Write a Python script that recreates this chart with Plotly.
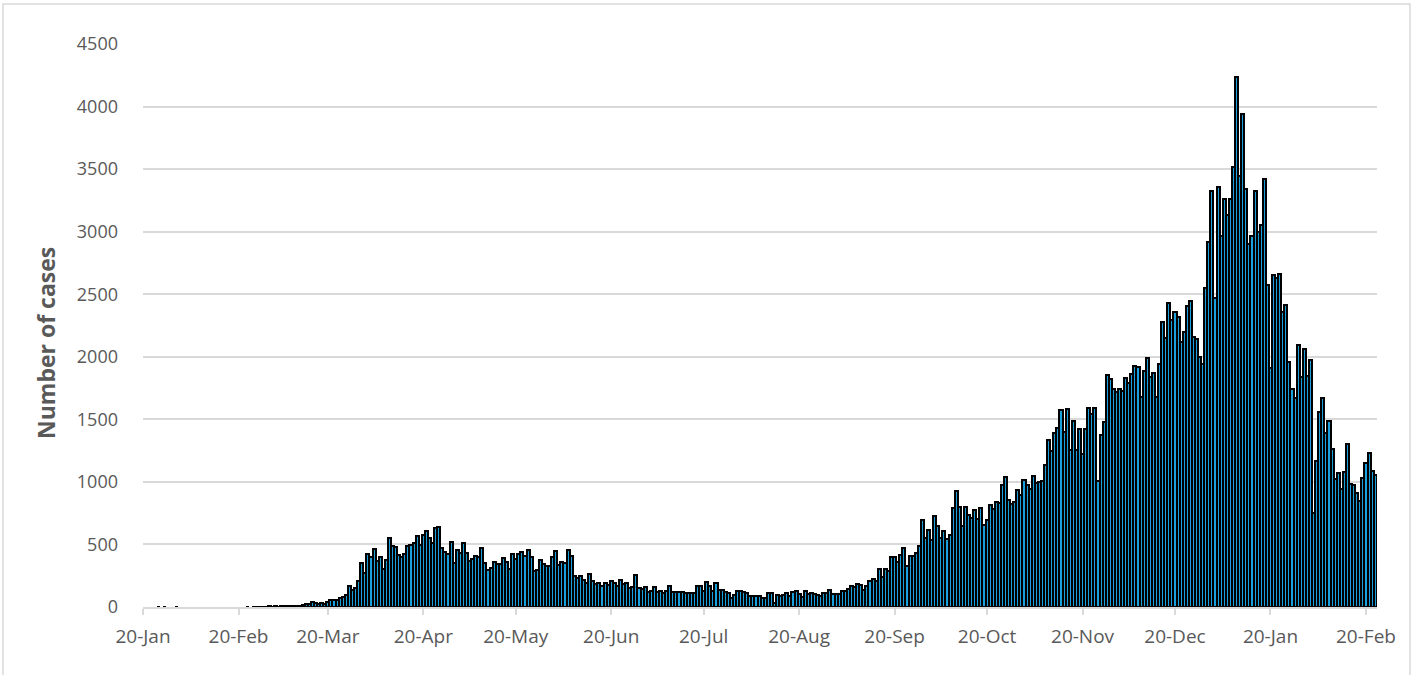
import pandas as pd
import plotly.graph_objects as go

START_DATE = "2020-01-20"

# Daily case counts, in consecutive day order
cases_jan_mar = [0, 0, 0, 0, 0, 2, 0, 2, 0, 0, 0, 2, 0, 0, 0, 0, 0, 0, 0, 0,
                 0, 0, 0, 0, 0, 0, 0, 0, 0, 0, 0, 0, 0, 0, 2, 0, 3, 2, 4, 3,
                 3, 5, 4, 6, 4, 8, 5, 7, 6, 10, 8, 12, 15, 22, 28, 42, 35, 22, 30]
cases_mar_jun = [22, 43, 56, 59, 54, 75, 83, 97, 167, 137, 148, 210, 350, 269, 425, 398,
                 460, 371, 403, 304, 379, 549, 484, 481, 417, 398, 422, 487, 498, 511,
                 565, 498, 573, 608, 551, 514, 635, 643, 473, 438, 425, 519, 352, 457,
                 430, 511, 430, 366, 385, 411, 398, 473, 350, 299, 312, 358, 344, 344,
                 390, 358, 304, 425, 385, 425, 438, 411, 457, 398, 291, 299, 377, 344,
                 328, 331, 403, 446]
cases_jun_aug = [339, 358, 350, 457, 411, 245, 231, 250, 215, 188, 264, 210, 183, 188,
                 169, 188, 175, 204, 188, 169, 215, 183, 188, 148, 156, 255, 151, 143,
                 156, 116, 124, 156, 116, 129, 108, 129, 169, 116, 121, 121, 116, 108,
                 108, 108, 108, 164, 164, 129, 196, 164, 129, 188, 135, 135, 116, 108,
                 75, 94, 124, 129, 116, 108, 89, 89, 89, 89, 75, 75, 110, 110, 35, 97,
                 89, 97, 108, 89, 116, 124, 102]
cases_aug_oct = [77, 125, 104, 109, 104, 99, 85, 112, 112, 139, 107, 107, 107, 125, 131,
                 144, 165, 157, 184, 179, 139, 165, 205, 224, 205, 304, 237, 304, 285,
                 397, 400, 360, 419, 472, 331, 405, 405, 432, 485, 699, 552, 619, 539,
                 725, 645, 552, 605, 544, 579, 792, 931, 797, 645, 797, 739, 712, 779,
                 707, 792, 659, 699, 813, 787, 840]
cases_oct_dec = [832, 979, 1040, 853, 827, 840, 933, 893, 1019, 979, 947, 1045, 992, 997,
                 1005, 1133, 1333, 1245, 1387, 1427, 1573, 1400, 1581, 1253, 1488, 1253,
                 1419, 1219, 1419, 1587, 1539, 1587, 1005, 1373, 1480, 1853, 1821, 1739,
                 1720, 1739, 1728, 1827, 1787, 1861, 1925, 1920, 1680, 1888, 1987, 1840,
                 1872, 1680, 1941, 2275, 2147, 2432, 2293, 2360, 2315, 2120, 2200, 2405]
cases_dec_feb = [2448, 2162, 2144, 2000, 1941, 2549, 2919, 3325, 2473, 3360, 2963, 3265,
                 3130, 3265, 3517, 4240, 3441, 3941, 3338, 2900, 2963, 3327, 2995, 3054,
                 3422, 2576, 1914, 2652, 2630, 2662, 2360, 2414, 1962, 1746, 1670, 2095,
                 1838, 2062, 1846, 1973, 751, 1170, 1562, 1670, 1392, 1487, 1265, 1027,
                 1070, 946, 1076, 1300, 987, 973, 908, 851, 1035, 1149, 1230, 1089, 1054]

cases = (cases_jan_mar + cases_mar_jun + cases_jun_aug + cases_aug_oct
         + cases_oct_dec + cases_dec_feb)
dates = pd.date_range(START_DATE, periods=len(cases), freq="D")
# days with no cases draw no bar at all (no outline on the baseline)
bar_heights = [v if v > 0 else None for v in cases]

Y_TITLE = "Number of cases"
TEXT_COLOR = "#595959"
GRID_COLOR = "#d9d9d9"
FONT = "Open Sans"

fig = go.Figure(go.Bar(
    x=dates, y=bar_heights,
    marker=dict(color="#1aa0dd", line=dict(color="#000000", width=2.0)),
    hoverinfo="x+y",
))

# plot area geometry in px (for the outer frame and the axis title)
L, R, T, B = 143, 39, 44, 68
W, H = 1416, 675
pw, ph = W - L - R, H - T - B

def px_x(px):
    return (px - L) / pw

def px_y(py):
    return (H - B - py) / ph

fig.update_layout(
    width=W, height=H,
    margin=dict(l=L, r=R, t=T, b=B),
    paper_bgcolor="white", plot_bgcolor="white",
    bargap=0,
    showlegend=False,
    font=dict(family=FONT, color=TEXT_COLOR, size=18),
    xaxis=dict(
        type="date",
        range=["2020-01-20", "2021-02-23 14:00"],
        tick0="2020-01-20", dtick="M1", tickformat="%d-%b",
        showgrid=False, showline=True, linecolor=GRID_COLOR, linewidth=1.5,
        ticks="outside", ticklen=6, tickcolor=GRID_COLOR, tickwidth=1.5,
        tickfont=dict(size=19, color=TEXT_COLOR, family=FONT),
        ticklabelstandoff=5,
    ),
    yaxis=dict(
        range=[0, 4500], dtick=500, tick0=0,
        showgrid=True, gridcolor=GRID_COLOR, gridwidth=1.5,
        zeroline=False, showline=False, ticks="",
        tickfont=dict(size=18, color=TEXT_COLOR, family=FONT),
        ticklabelstandoff=24,
    ),
    annotations=[dict(text="<b>" + Y_TITLE + "</b>", textangle=-90,
                      xref="paper", yref="paper", x=px_x(46), y=px_y(343),
                      xanchor="center", yanchor="middle", showarrow=False,
                      font=dict(size=23, color=TEXT_COLOR, family=FONT))],
    shapes=[dict(type="rect", xref="paper", yref="paper",
                 x0=px_x(3), x1=px_x(1410), y0=px_y(700), y1=px_y(4),
                 line=dict(color=GRID_COLOR, width=1.5), fillcolor="rgba(0,0,0,0)",
                 layer="below")],
)

fig.write_html("out.html", config={"displayModeBar": False},
               post_script="document.body.style.margin='0';")
